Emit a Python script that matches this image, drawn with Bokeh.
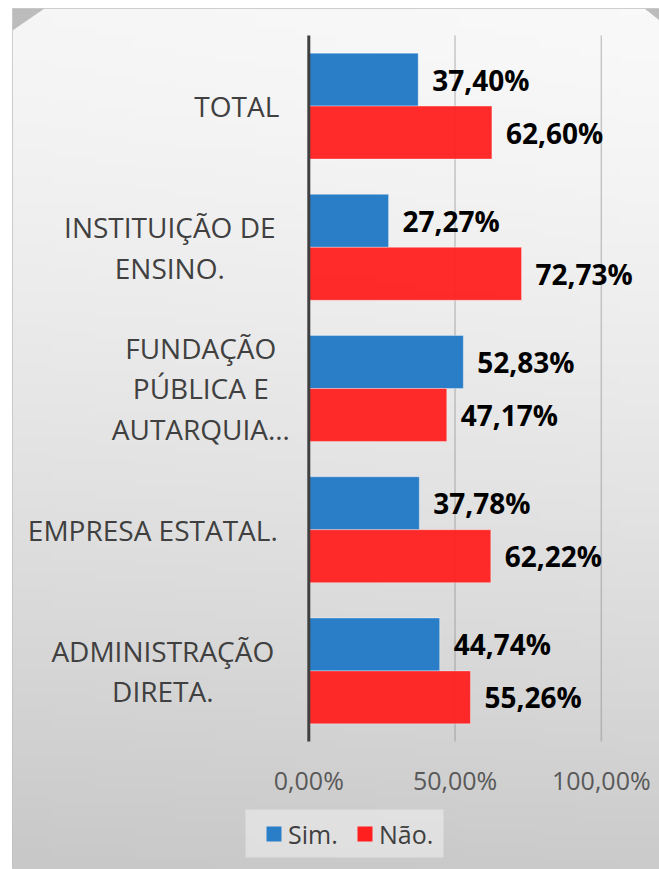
import numpy as np
from bokeh.plotting import figure
from bokeh.models import Range1d, ColumnDataSource
from bokeh.core.properties import value
from bokeh.embed import file_html
from bokeh.resources import INLINE

# ---------------- data ----------------
categories = ["TOTAL", "INSTITUIÇÃO DE\nENSINO.", "FUNDAÇÃO\nPÚBLICA E\nAUTARQUIA…",
              "EMPRESA ESTATAL.", "ADMINISTRAÇÃO\nDIRETA."]
sim = [37.40, 27.27, 52.83, 37.78, 44.74]
nao = [62.60, 72.73, 47.17, 62.22, 55.26]
series_names = ["Sim.", "Não."]
x_ticks = [0, 50, 100]
x_tick_labels = ["0,00%", "50,00%", "100,00%"]

# ---------------- style ----------------
BLUE = "#2a7ec8"
RED = "#ff1f1f"
FONT = "Open Sans"
label_center_px = [-72, -139, -108, -156, -146]   # centre of each category label block, px left of the axis

W, H = 659, 869
ML, MT = 12, 8                      # white strip around the chart box
FW, FH = W - ML, H - MT             # frame size
n = len(categories)
y_center = [n - 0.5 - i for i in range(n)]
bar_h = 0.375

def fmt(v):
    return f"{v:.2f}%".replace(".", ",")

src = ColumnDataSource(dict(
    cat=categories, yc=y_center,
    y_sim=[c + bar_h / 2 for c in y_center],
    y_nao=[c - bar_h / 2 for c in y_center],
    sim=sim, nao=nao,
    sim_lbl=[fmt(v) for v in sim], nao_lbl=[fmt(v) for v in nao],
    zero=[0] * n, cat_off=label_center_px,
))

# x: 0% at frame px 296.3, 2.925 px per %
x0_px, px_per = 296.3, 2.925
xr = Range1d(-x0_px / px_per, (FW - x0_px) / px_per)
# y: plot area 0..n between frame px 27 and 733
top_px, bot_px = 27.0, 733.0
unit = (bot_px - top_px) / n
yr = Range1d(-(FH - bot_px) / unit, n + top_px / unit)

def px2x(px):
    return xr.start + px / px_per

def px2y(py):
    return yr.end - py / unit

p = figure(width=W, height=H, x_range=xr, y_range=yr,
           x_axis_location=None, y_axis_location=None,
           toolbar_location=None, output_backend="svg",
           min_border_left=ML, min_border_top=MT, min_border_right=0, min_border_bottom=0)
p.grid.visible = False
p.border_fill_color = "white"
p.outline_line_color = "#c0c0c0"
p.outline_line_width = 1

# background gradient (vertical, light at top, darker at bottom)
gh, gw = 128, 16
t = np.linspace(1, 0, gh)[:, None]          # row 0 is bottom
s = np.linspace(0, 1, gw)[None, :]
g = 246 - 46 * t ** 1.35 + 3 * s
g = np.clip(g, 0, 255).astype(np.uint32)
img = (255 << 24) | (g << 16) | (g << 8) | g
p.image_rgba(image=[img.astype(np.uint32)], x=xr.start, y=yr.start,
             dw=xr.end - xr.start, dh=yr.end - yr.start)

# folded-corner shading
p.patch(x=[px2x(0), px2x(32), px2x(0)], y=[px2y(0), px2y(0), px2y(22)],
        fill_color="#bcbcbc", line_color=None)
p.patch(x=[px2x(FW - 15), px2x(FW), px2x(FW)], y=[px2y(0), px2y(0), px2y(12)],
        fill_color="#bcbcbc", line_color=None)

# gridlines
gx = x_ticks[1:]
p.segment(x0=gx, x1=gx, y0=[0] * len(gx), y1=[n] * len(gx),
          line_color="#7f7f7f", line_alpha=0.4, line_width=1.5)

# bars
p.hbar(y="y_sim", left=0, right="sim", height=bar_h, source=src,
       fill_color=BLUE, line_color="white", line_alpha=0.35, line_width=1)
p.hbar(y="y_nao", left=0, right="nao", height=bar_h, source=src,
       fill_color=RED, fill_alpha=0.95, line_color="white", line_alpha=0.35, line_width=1)

# axis line at 0
p.segment(x0=[0], x1=[0], y0=[0], y1=[n], line_color="#404040", line_width=3)

# value labels
for col, lbl in (("sim", "sim_lbl"), ("nao", "nao_lbl")):
    p.text(x=col, y="y_" + col, text=lbl, source=src, x_offset=14,
           text_align="left", text_baseline="middle", text_font=value(FONT),
           text_font_style="bold", text_font_size="28px", text_color="black")

# category labels (lines centred within each block)
p.text(x="zero", y="yc", text="cat", source=src, x_offset="cat_off",
       text_align="center", text_baseline="middle", text_font=value(FONT),
       text_font_size="28px", text_color="#404040", text_line_height=1.07)

# x tick labels
p.text(x=x_ticks, y=[0] * len(x_ticks), text=x_tick_labels, y_offset=38,
       text_align="center", text_baseline="middle", text_font=value(FONT),
       text_font_size="25px", text_color="#595959")

# legend (box, swatches, labels)
lg_left, lg_top, lg_right, lg_bot = 233, 801, 431, 849     # frame px
p.quad(left=[px2x(lg_left)], right=[px2x(lg_right)], top=[px2y(lg_top)], bottom=[px2y(lg_bot)],
       fill_color="white", fill_alpha=0.4, line_color=None)
sw_x = [px2x(261.5), px2x(352.5)]
sw_y = [px2y(825.5)] * 2
p.scatter(x=sw_x, y=sw_y, marker="square", size=15, fill_color=[BLUE, RED],
          line_color=None)
p.text(x=sw_x, y=sw_y, text=series_names, x_offset=14, text_align="left",
       text_baseline="middle", text_font=value(FONT), text_font_size="25px",
       text_color="#404040")

open("out.html", "w").write(file_html(p, INLINE))
